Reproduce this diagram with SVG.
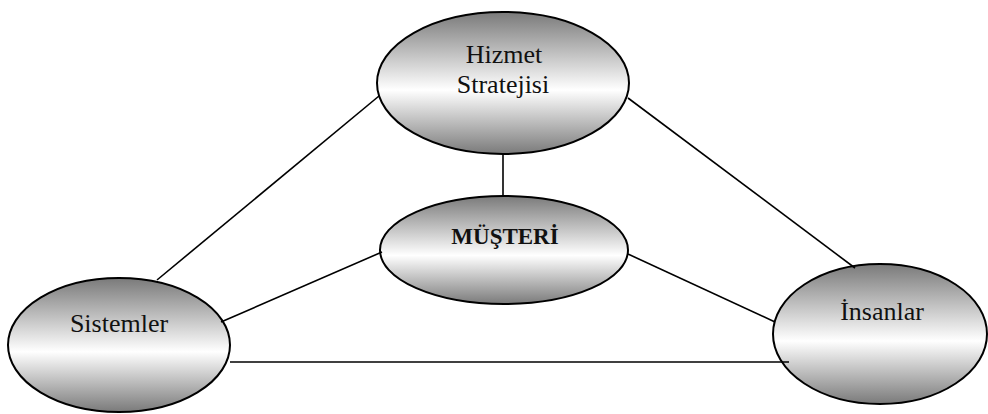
<svg xmlns="http://www.w3.org/2000/svg" width="988" height="414" viewBox="0 0 988 414">
<defs>
<linearGradient id="g" x1="0" y1="0" x2="0" y2="1">
<stop offset="0" stop-color="#7a7a7a"/>
<stop offset="0.55" stop-color="#ffffff"/>
<stop offset="1" stop-color="#7a7a7a"/>
</linearGradient>
</defs>
<style>
.n{fill:url(#g);stroke:#000;stroke-width:2}
.c line{stroke:#000;stroke-width:1.6}
text{font-family:"Liberation Serif","Times New Roman",serif;font-size:26px;fill:#111;text-anchor:middle}
.b{font-weight:bold;font-size:23px}
</style>
<g id="hizmet">
<ellipse class="n" cx="503" cy="83" rx="126" ry="71"/>
<text x="504" y="63">Hizmet</text>
<text x="503" y="93">Stratejisi</text>
</g>
<g id="musteri">
<ellipse class="n" cx="504" cy="250" rx="124" ry="54"/>
<text class="b" x="505" y="244">MÜŞTERİ</text>
</g>
<g id="sistemler">
<ellipse class="n" cx="119" cy="345" rx="111" ry="67"/>
<text x="119" y="332">Sistemler</text>
</g>
<g id="insanlar">
<ellipse class="n" cx="880" cy="334" rx="107" ry="70"/>
<text x="882" y="320">İnsanlar</text>
</g>
<g class="c" id="connectors">
<line x1="379" y1="96" x2="157" y2="280"/>
<line x1="628" y1="98" x2="855" y2="268"/>
<line x1="503" y1="154" x2="503" y2="197"/>
<line x1="382" y1="252" x2="221" y2="322"/>
<line x1="628" y1="254" x2="775" y2="322"/>
<line x1="230" y1="362" x2="789" y2="362"/>
</g>
</svg>
